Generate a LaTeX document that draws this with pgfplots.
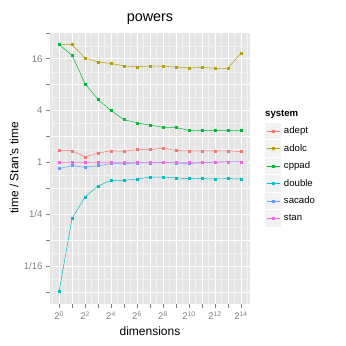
\documentclass[border=0pt]{standalone}
\usepackage{pgfplots}
\pgfplotsset{compat=1.18}
\usepackage{fontspec}
\setmainfont{Liberation Sans}
\definecolor{cadept}{HTML}{F8766D}
\definecolor{cadolc}{HTML}{B79F00}
\definecolor{ccppad}{HTML}{00BA38}
\definecolor{cdouble}{HTML}{00BFC4}
\definecolor{csacado}{HTML}{619CFF}
\definecolor{cstan}{HTML}{F564E3}
\definecolor{panelbg}{HTML}{E5E5E5}
\definecolor{gridminor}{HTML}{F2F2F2}
\definecolor{tickgrey}{HTML}{7F7F7F}
\definecolor{keybg}{HTML}{F2F2F2}
\begin{document}
\begin{tikzpicture}
\useasboundingbox (-50pt,-42pt) rectangle (296pt,304pt);
\begin{axis}[
  at={(0pt,0pt)}, anchor=south west,
  scale only axis, width=200pt, height=272pt,
  xmode=log, ymode=log, log basis x=2, log basis y=2,
  xmin=0.6156, xmax=26616,
  ymin=0.02287, ymax=32.67,
  axis background/.style={fill=panelbg},
  axis line style={draw=none},
  grid=major,
  major grid style={white, line width=0.7pt},
  xtick={1,2,4,8,16,32,64,128,256,512,1024,2048,4096,8192,16384},
  xticklabels={2\textsuperscript{0},,2\textsuperscript{2},,2\textsuperscript{4},,2\textsuperscript{6},,2\textsuperscript{8},,2\textsuperscript{10},,2\textsuperscript{12},,2\textsuperscript{14}},
  extra x ticks={0.7071,1.4142,2.8284,5.6569,11.3137,22.6274,45.2548,90.5097,181.0193,362.0387,724.0773,1448.1547,2896.3094,5792.6188,11585.2375,23170.475},
  extra x tick labels={},
  ytick={0.03125,0.0625,0.125,0.25,0.5,1,2,4,8,16,32},
  yticklabels={,1/16,,1/4,,1,,4,,16,},
  extra y ticks={0.04419,0.08839,0.17678,0.35355,0.70711,1.41421,2.82843,5.65685,11.31371,22.62742},
  extra y tick labels={},
  extra tick style={major grid style={gridminor, line width=0.35pt}, major tick length=0pt},
  tick align=outside, major tick length=4pt,
  tick style={tickgrey, line width=0.5pt},
  xtick pos=left, ytick pos=left,
  ticklabel style={font=\fontsize{9.6}{11}\selectfont, text=tickgrey},
  xlabel={dimensions}, ylabel={time / Stan's time},
  every axis x label/.style={at={(axis description cs:0.5,-0.099)}, anchor=center, font=\fontsize{12}{14}\selectfont},
  every axis y label/.style={at={(axis description cs:-0.18,0.5)}, anchor=center, rotate=90, font=\fontsize{12}{14}\selectfont},
  title={powers},
  title style={at={(axis description cs:0.5,1)}, anchor=base, yshift=4.7pt, font=\fontsize{14.4}{17}\selectfont},
  every axis plot/.append style={line width=0.5pt, mark=square*, mark size=1pt},
  legend style={at={(axis description cs:1.075,0.669)}, anchor=north west, draw=none, fill=none,
    inner sep=0pt, outer sep=0pt, row sep=0pt, column sep=2pt,
    nodes={inner sep=0pt}, font=\fontsize{9.6}{11}\selectfont},
  legend cell align=left,
  legend image code/.code={
    \path[draw=none, fill=none] (0pt,-8.75pt) rectangle (17pt,8.75pt);
    \path[draw=none, fill=keybg] (0.5pt,-8.25pt) rectangle (16.5pt,8.25pt);
    \draw[mark repeat=2,mark phase=2,#1] plot coordinates {(2pt,0pt) (8.5pt,0pt) (15pt,0pt)};
  },
]
\addplot[cadept, mark options={fill=cadept, draw=cadept}] coordinates {
(1,1.38) (2,1.37) (4,1.16) (8,1.29) (16,1.37) (32,1.35) (64,1.41) (128,1.41) (256,1.47) (512,1.38) (1024,1.36) (2048,1.37) (4096,1.37) (8192,1.37) (16384,1.34)};
\addplot[cadolc, mark options={fill=cadolc, draw=cadolc}] coordinates {
(1,23.4) (2,23.3) (4,16.3) (8,14.7) (16,14.1) (32,13.2) (64,12.9) (128,13.2) (256,13.1) (512,12.8) (1024,12.5) (2048,12.7) (4096,12.4) (8192,12.4) (16384,18.6)};
\addplot[ccppad, mark options={fill=ccppad, draw=ccppad}] coordinates {
(1,23.4) (2,17.5) (4,8.2) (8,5.4) (16,4.0) (32,3.14) (64,2.89) (128,2.71) (256,2.57) (512,2.55) (1024,2.36) (2048,2.36) (4096,2.36) (8192,2.36) (16384,2.35)};
\addplot[cdouble, mark options={fill=cdouble, draw=cdouble}] coordinates {
(1,0.032) (2,0.225) (4,0.40) (8,0.536) (16,0.62) (32,0.62) (64,0.646) (128,0.678) (256,0.678) (512,0.664) (1024,0.65) (2048,0.65) (4096,0.646) (8192,0.65) (16384,0.646)};
\addplot[csacado, mark options={fill=csacado, draw=csacado}] coordinates {
(1,0.85) (2,0.92) (4,0.88) (8,0.92) (16,0.97) (32,0.97) (64,0.99) (128,0.99) (256,1.0) (512,0.99) (1024,0.97) (2048,1.0) (4096,1.01) (8192,1.02) (16384,1.02)};
\addplot[cstan, mark options={fill=cstan, draw=cstan}] coordinates {
(1,1) (2,1) (4,1) (8,1) (16,1) (32,1) (64,1) (128,1) (256,1) (512,1) (1024,1) (2048,1) (4096,1) (8192,1.02) (16384,1.02)};
\legend{adept,adolc,cppad,double,sacado,stan}
\end{axis}
\node[anchor=base west, inner sep=0pt, font=\bfseries\fontsize{9.6}{11}\selectfont] at (215pt,187.3pt) {system};
\end{tikzpicture}
\end{document}
